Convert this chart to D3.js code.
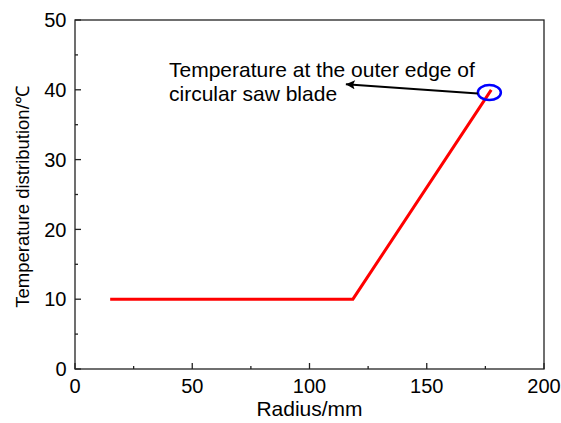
<!DOCTYPE html>
<html><head><meta charset="utf-8">
<script src="https://cdn.jsdelivr.net/npm/d3@7"></script>
<style>body{margin:0;background:#fff}svg{display:block}text{font-family:Arial,"Liberation Sans",sans-serif;fill:#000}</style>
</head><body>
<script>
const radius = [15, 118.5, 177.5];
const temperature = [10, 10, 40];
const xTicks = [0, 50, 100, 150, 200];
const yTicks = [0, 10, 20, 30, 40, 50];
const annotationLines = ["Temperature at the outer edge of", "circular saw blade"];
const markerPoint = [176.7, 39.6];
const arrowTip = [115.5, 40.8];

const W = 561, H = 423;
const m = {left: 75, right: 17, top: 20, bottom: 54};
const svg = d3.select("body").append("svg").attr("width", W).attr("height", H);
const x = d3.scaleLinear().domain([0, 200]).range([m.left, W - m.right]);
const y = d3.scaleLinear().domain([0, 50]).range([H - m.bottom, m.top]);

const defs = svg.append("defs");
defs.append("marker").attr("id","ah").attr("viewBox","0 0 10 10").attr("refX",10).attr("refY",5)
  .attr("markerWidth",14).attr("markerHeight",9).attr("markerUnits","userSpaceOnUse").attr("orient","auto")
  .append("path").attr("d","M0,0L10,5L0,10L2,5Z").attr("fill","#000");

// frame
svg.append("rect").attr("x", x(0)).attr("y", y(50)).attr("width", x(200)-x(0)).attr("height", y(0)-y(50))
  .attr("fill","none").attr("stroke","#222").attr("stroke-width",1.3);

// ticks
const minorX = d3.range(25, 200, 50), minorY = d3.range(5, 50, 10);
const g = svg.append("g").attr("stroke","#222").attr("stroke-width",1.3);
xTicks.forEach(v => g.append("line").attr("x1",x(v)).attr("x2",x(v)).attr("y1",y(0)).attr("y2",y(0)-6));
minorX.forEach(v => g.append("line").attr("x1",x(v)).attr("x2",x(v)).attr("y1",y(0)).attr("y2",y(0)-3));
yTicks.forEach(v => g.append("line").attr("x1",x(0)).attr("x2",x(0)+6).attr("y1",y(v)).attr("y2",y(v)));
minorY.forEach(v => g.append("line").attr("x1",x(0)).attr("x2",x(0)+3).attr("y1",y(v)).attr("y2",y(v)));

xTicks.forEach(v => svg.append("text").attr("x",x(v)).attr("y",y(0)+24).attr("text-anchor","middle")
  .attr("font-size",20).text(v));
yTicks.forEach(v => svg.append("text").attr("x",x(0)-8.5).attr("y",y(v)+7.2).attr("text-anchor","end")
  .attr("font-size",20).text(v));

svg.append("text").attr("x",(x(0)+x(200))/2).attr("y",416).attr("text-anchor","middle").attr("font-size",21).text("Radius/mm");
svg.append("text").attr("transform","translate(29,197) rotate(-90)").attr("text-anchor","middle").attr("font-size",18.5)
  .text("Temperature distribution/℃");

// data line
const line = d3.line().x((d,i)=>x(radius[i])).y(d=>y(d));
svg.append("path").datum(temperature).attr("d",line).attr("fill","none").attr("stroke","#ff0000").attr("stroke-width",3);

// annotation
svg.append("ellipse").attr("cx",x(markerPoint[0])).attr("cy",y(markerPoint[1])).attr("rx",11.5).attr("ry",7.5)
  .attr("fill","none").attr("stroke","#0000ff").attr("stroke-width",2.5);
svg.append("line").attr("x1",x(markerPoint[0])-11.5).attr("y1",y(markerPoint[1])+1)
  .attr("x2",x(arrowTip[0])).attr("y2",y(arrowTip[1])).attr("stroke","#000").attr("stroke-width",2).attr("marker-end","url(#ah)");
annotationLines.forEach((t,i)=>svg.append("text").attr("x",169).attr("y",77+i*24).attr("font-size",21).text(t));
</script>
</body></html>
